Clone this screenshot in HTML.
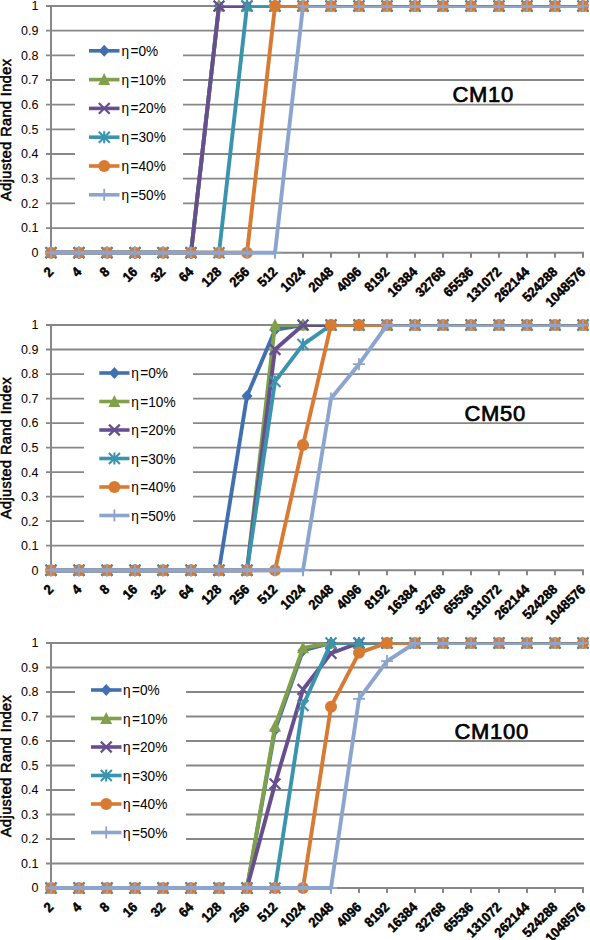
<!DOCTYPE html>
<html><head><meta charset="utf-8"><style>html,body{margin:0;padding:0;background:#fff;width:590px;height:940px;overflow:hidden}</style></head>
<body>
<svg width="590" height="940" viewBox="0 0 590 940" style="display:block">
<rect width="590" height="940" fill="#fff"/>
<path d="M46 228.03H584 M46 203.36H584 M46 178.69H584 M46 154.02H584 M46 129.35H584 M46 104.68H584 M46 80.01H584 M46 55.34H584 M46 30.67H584 M46 6.00H584" stroke="#878787" stroke-width="1.8" fill="none"/>
<path d="M51 5.00V252.70M46 252.70H584" stroke="#878787" stroke-width="2" fill="none"/>
<path d="M51.0 252.70v5 M79.0 252.70v5 M107.0 252.70v5 M135.0 252.70v5 M163.0 252.70v5 M191.0 252.70v5 M219.0 252.70v5 M247.0 252.70v5 M275.0 252.70v5 M303.0 252.70v5 M331.0 252.70v5 M359.0 252.70v5 M387.0 252.70v5 M415.0 252.70v5 M443.0 252.70v5 M471.0 252.70v5 M499.0 252.70v5 M527.0 252.70v5 M555.0 252.70v5 M583.0 252.70v5" stroke="#878787" stroke-width="2" fill="none"/>
<g font-family="Liberation Sans, sans-serif" font-size="12.5" text-anchor="end" fill="#000">
<text x="38.5" y="257.10">0</text>
<text x="38.5" y="232.43">0.1</text>
<text x="38.5" y="207.76">0.2</text>
<text x="38.5" y="183.09">0.3</text>
<text x="38.5" y="158.42">0.4</text>
<text x="38.5" y="133.75">0.5</text>
<text x="38.5" y="109.08">0.6</text>
<text x="38.5" y="84.41">0.7</text>
<text x="38.5" y="59.74">0.8</text>
<text x="38.5" y="35.07">0.9</text>
<text x="38.5" y="10.40">1</text>
</g>
<text transform="translate(10.8 129.8) rotate(-90)" font-family="Liberation Sans, sans-serif" font-size="14.5" text-anchor="middle" stroke="#000" stroke-width="0.55" letter-spacing="0.4">Adjusted Rand Index</text>
<g font-family="Liberation Sans, sans-serif" font-weight="bold" font-size="13.6" text-anchor="end" stroke="#000" stroke-width="0.5">
<text transform="translate(54.2 272.7) rotate(-45) scale(0.94 1)">2</text>
<text transform="translate(82.2 272.7) rotate(-45) scale(0.94 1)">4</text>
<text transform="translate(110.2 272.7) rotate(-45) scale(0.94 1)">8</text>
<text transform="translate(138.2 272.7) rotate(-45) scale(0.94 1)">16</text>
<text transform="translate(166.2 272.7) rotate(-45) scale(0.94 1)">32</text>
<text transform="translate(194.2 272.7) rotate(-45) scale(0.94 1)">64</text>
<text transform="translate(222.2 272.7) rotate(-45) scale(0.94 1)">128</text>
<text transform="translate(250.2 272.7) rotate(-45) scale(0.94 1)">256</text>
<text transform="translate(278.2 272.7) rotate(-45) scale(0.94 1)">512</text>
<text transform="translate(306.2 272.7) rotate(-45) scale(0.94 1)">1024</text>
<text transform="translate(334.2 272.7) rotate(-45) scale(0.94 1)">2048</text>
<text transform="translate(362.2 272.7) rotate(-45) scale(0.94 1)">4096</text>
<text transform="translate(390.2 272.7) rotate(-45) scale(0.94 1)">8192</text>
<text transform="translate(418.2 272.7) rotate(-45) scale(0.94 1)">16384</text>
<text transform="translate(446.2 272.7) rotate(-45) scale(0.94 1)">32768</text>
<text transform="translate(474.2 272.7) rotate(-45) scale(0.94 1)">65536</text>
<text transform="translate(502.2 272.7) rotate(-45) scale(0.94 1)">131072</text>
<text transform="translate(530.2 272.7) rotate(-45) scale(0.94 1)">262144</text>
<text transform="translate(558.2 272.7) rotate(-45) scale(0.94 1)">524288</text>
<text transform="translate(586.2 272.7) rotate(-45) scale(0.94 1)">1048576</text>
</g>
<rect x="75" y="33" width="108" height="193" fill="#fff"/>
<g font-family="Liberation Sans, sans-serif" font-size="15.2">
<path d="M89 50.8H119.5" stroke="#4070B0" stroke-width="3.6"/>
<path d="M104.2 44.8L109.8 50.8L104.2 56.8L98.7 50.8Z" fill="#4070B0"/>
<text transform="translate(121.5 55.8) scale(0.9 1)">η<tspan dx="1.6">=0%</tspan></text>
<path d="M89 79.6H119.5" stroke="#80A04A" stroke-width="3.6"/>
<path d="M104.2 73.0L110.2 85.0L98.2 85.0Z" fill="#80A04A"/>
<text transform="translate(121.5 84.6) scale(0.9 1)">η<tspan dx="1.6">=10%</tspan></text>
<path d="M89 108.4H119.5" stroke="#674E8F" stroke-width="3.6"/>
<path d="M98.8 103.0L109.7 113.8M109.7 103.0L98.8 113.8" stroke="#674E8F" stroke-width="2.2"/>
<text transform="translate(121.5 113.4) scale(0.9 1)">η<tspan dx="1.6">=20%</tspan></text>
<path d="M89 137.2H119.5" stroke="#3A94AE" stroke-width="3.6"/>
<path d="M98.8 131.7L109.8 142.7M109.8 131.7L98.8 142.7M104.2 131.2L104.2 143.2" stroke="#3A94AE" stroke-width="2.1"/>
<text transform="translate(121.5 142.2) scale(0.9 1)">η<tspan dx="1.6">=30%</tspan></text>
<path d="M89 166H119.5" stroke="#D97A33" stroke-width="3.6"/>
<circle cx="104.2" cy="166.0" r="6" fill="#D97A33"/>
<text transform="translate(121.5 171.0) scale(0.9 1)">η<tspan dx="1.6">=40%</tspan></text>
<path d="M89 194.8H119.5" stroke="#8CA5CE" stroke-width="3.6"/>
<path d="M98.2 194.8L110.2 194.8M104.2 188.8L104.2 200.8" stroke="#8CA5CE" stroke-width="1.8"/>
<text transform="translate(121.5 199.8) scale(0.9 1)">η<tspan dx="1.6">=50%</tspan></text>
</g>
<text x="452.5" y="101.5" font-family="Liberation Sans, sans-serif" font-size="22" letter-spacing="0.7" stroke="#000" stroke-width="0.7">CM10</text>
<clipPath id="c0"><rect x="40" y="6.00" width="560" height="256.70"/></clipPath>
<polyline points="51.0,252.70 79.0,252.70 107.0,252.70 135.0,252.70 163.0,252.70 191.0,252.70 219.0,6.00 247.0,6.00 275.0,6.00 303.0,6.00 331.0,6.00 359.0,6.00 387.0,6.00 415.0,6.00 443.0,6.00 471.0,6.00 499.0,6.00 527.0,6.00 555.0,6.00 583.0,6.00" fill="none" stroke="#4070B0" stroke-width="3.9" stroke-linejoin="round" clip-path="url(#c0)"/>
<path d="M51.0 246.7L56.5 252.7L51.0 258.7L45.5 252.7Z" fill="#4070B0"/>
<path d="M79.0 246.7L84.5 252.7L79.0 258.7L73.5 252.7Z" fill="#4070B0"/>
<path d="M107.0 246.7L112.5 252.7L107.0 258.7L101.5 252.7Z" fill="#4070B0"/>
<path d="M135.0 246.7L140.5 252.7L135.0 258.7L129.5 252.7Z" fill="#4070B0"/>
<path d="M163.0 246.7L168.5 252.7L163.0 258.7L157.5 252.7Z" fill="#4070B0"/>
<path d="M191.0 246.7L196.5 252.7L191.0 258.7L185.5 252.7Z" fill="#4070B0"/>
<path d="M219.0 0.0L224.5 6.0L219.0 12.0L213.5 6.0Z" fill="#4070B0"/>
<path d="M247.0 0.0L252.5 6.0L247.0 12.0L241.5 6.0Z" fill="#4070B0"/>
<path d="M275.0 0.0L280.5 6.0L275.0 12.0L269.5 6.0Z" fill="#4070B0"/>
<path d="M303.0 0.0L308.5 6.0L303.0 12.0L297.5 6.0Z" fill="#4070B0"/>
<path d="M331.0 0.0L336.5 6.0L331.0 12.0L325.5 6.0Z" fill="#4070B0"/>
<path d="M359.0 0.0L364.5 6.0L359.0 12.0L353.5 6.0Z" fill="#4070B0"/>
<path d="M387.0 0.0L392.5 6.0L387.0 12.0L381.5 6.0Z" fill="#4070B0"/>
<path d="M415.0 0.0L420.5 6.0L415.0 12.0L409.5 6.0Z" fill="#4070B0"/>
<path d="M443.0 0.0L448.5 6.0L443.0 12.0L437.5 6.0Z" fill="#4070B0"/>
<path d="M471.0 0.0L476.5 6.0L471.0 12.0L465.5 6.0Z" fill="#4070B0"/>
<path d="M499.0 0.0L504.5 6.0L499.0 12.0L493.5 6.0Z" fill="#4070B0"/>
<path d="M527.0 0.0L532.5 6.0L527.0 12.0L521.5 6.0Z" fill="#4070B0"/>
<path d="M555.0 0.0L560.5 6.0L555.0 12.0L549.5 6.0Z" fill="#4070B0"/>
<path d="M583.0 0.0L588.5 6.0L583.0 12.0L577.5 6.0Z" fill="#4070B0"/>
<polyline points="51.0,252.70 79.0,252.70 107.0,252.70 135.0,252.70 163.0,252.70 191.0,252.70 219.0,6.00 247.0,6.00 275.0,6.00 303.0,6.00 331.0,6.00 359.0,6.00 387.0,6.00 415.0,6.00 443.0,6.00 471.0,6.00 499.0,6.00 527.0,6.00 555.0,6.00 583.0,6.00" fill="none" stroke="#80A04A" stroke-width="3.9" stroke-linejoin="round" clip-path="url(#c0)"/>
<path d="M51.0 246.1L57.0 258.1L45.0 258.1Z" fill="#80A04A"/>
<path d="M79.0 246.1L85.0 258.1L73.0 258.1Z" fill="#80A04A"/>
<path d="M107.0 246.1L113.0 258.1L101.0 258.1Z" fill="#80A04A"/>
<path d="M135.0 246.1L141.0 258.1L129.0 258.1Z" fill="#80A04A"/>
<path d="M163.0 246.1L169.0 258.1L157.0 258.1Z" fill="#80A04A"/>
<path d="M191.0 246.1L197.0 258.1L185.0 258.1Z" fill="#80A04A"/>
<path d="M219.0 -0.6L225.0 11.4L213.0 11.4Z" fill="#80A04A"/>
<path d="M247.0 -0.6L253.0 11.4L241.0 11.4Z" fill="#80A04A"/>
<path d="M275.0 -0.6L281.0 11.4L269.0 11.4Z" fill="#80A04A"/>
<path d="M303.0 -0.6L309.0 11.4L297.0 11.4Z" fill="#80A04A"/>
<path d="M331.0 -0.6L337.0 11.4L325.0 11.4Z" fill="#80A04A"/>
<path d="M359.0 -0.6L365.0 11.4L353.0 11.4Z" fill="#80A04A"/>
<path d="M387.0 -0.6L393.0 11.4L381.0 11.4Z" fill="#80A04A"/>
<path d="M415.0 -0.6L421.0 11.4L409.0 11.4Z" fill="#80A04A"/>
<path d="M443.0 -0.6L449.0 11.4L437.0 11.4Z" fill="#80A04A"/>
<path d="M471.0 -0.6L477.0 11.4L465.0 11.4Z" fill="#80A04A"/>
<path d="M499.0 -0.6L505.0 11.4L493.0 11.4Z" fill="#80A04A"/>
<path d="M527.0 -0.6L533.0 11.4L521.0 11.4Z" fill="#80A04A"/>
<path d="M555.0 -0.6L561.0 11.4L549.0 11.4Z" fill="#80A04A"/>
<path d="M583.0 -0.6L589.0 11.4L577.0 11.4Z" fill="#80A04A"/>
<polyline points="51.0,252.70 79.0,252.70 107.0,252.70 135.0,252.70 163.0,252.70 191.0,252.70 219.0,6.00 247.0,6.00 275.0,6.00 303.0,6.00 331.0,6.00 359.0,6.00 387.0,6.00 415.0,6.00 443.0,6.00 471.0,6.00 499.0,6.00 527.0,6.00 555.0,6.00 583.0,6.00" fill="none" stroke="#674E8F" stroke-width="3.9" stroke-linejoin="round" clip-path="url(#c0)"/>
<path d="M45.6 247.3L56.4 258.1M56.4 247.3L45.6 258.1" stroke="#674E8F" stroke-width="2.2"/>
<path d="M73.6 247.3L84.4 258.1M84.4 247.3L73.6 258.1" stroke="#674E8F" stroke-width="2.2"/>
<path d="M101.6 247.3L112.4 258.1M112.4 247.3L101.6 258.1" stroke="#674E8F" stroke-width="2.2"/>
<path d="M129.6 247.3L140.4 258.1M140.4 247.3L129.6 258.1" stroke="#674E8F" stroke-width="2.2"/>
<path d="M157.6 247.3L168.4 258.1M168.4 247.3L157.6 258.1" stroke="#674E8F" stroke-width="2.2"/>
<path d="M185.6 247.3L196.4 258.1M196.4 247.3L185.6 258.1" stroke="#674E8F" stroke-width="2.2"/>
<path d="M213.6 0.6L224.4 11.4M224.4 0.6L213.6 11.4" stroke="#674E8F" stroke-width="2.2"/>
<path d="M241.6 0.6L252.4 11.4M252.4 0.6L241.6 11.4" stroke="#674E8F" stroke-width="2.2"/>
<path d="M269.6 0.6L280.4 11.4M280.4 0.6L269.6 11.4" stroke="#674E8F" stroke-width="2.2"/>
<path d="M297.6 0.6L308.4 11.4M308.4 0.6L297.6 11.4" stroke="#674E8F" stroke-width="2.2"/>
<path d="M325.6 0.6L336.4 11.4M336.4 0.6L325.6 11.4" stroke="#674E8F" stroke-width="2.2"/>
<path d="M353.6 0.6L364.4 11.4M364.4 0.6L353.6 11.4" stroke="#674E8F" stroke-width="2.2"/>
<path d="M381.6 0.6L392.4 11.4M392.4 0.6L381.6 11.4" stroke="#674E8F" stroke-width="2.2"/>
<path d="M409.6 0.6L420.4 11.4M420.4 0.6L409.6 11.4" stroke="#674E8F" stroke-width="2.2"/>
<path d="M437.6 0.6L448.4 11.4M448.4 0.6L437.6 11.4" stroke="#674E8F" stroke-width="2.2"/>
<path d="M465.6 0.6L476.4 11.4M476.4 0.6L465.6 11.4" stroke="#674E8F" stroke-width="2.2"/>
<path d="M493.6 0.6L504.4 11.4M504.4 0.6L493.6 11.4" stroke="#674E8F" stroke-width="2.2"/>
<path d="M521.6 0.6L532.4 11.4M532.4 0.6L521.6 11.4" stroke="#674E8F" stroke-width="2.2"/>
<path d="M549.6 0.6L560.4 11.4M560.4 0.6L549.6 11.4" stroke="#674E8F" stroke-width="2.2"/>
<path d="M577.6 0.6L588.4 11.4M588.4 0.6L577.6 11.4" stroke="#674E8F" stroke-width="2.2"/>
<polyline points="51.0,252.70 79.0,252.70 107.0,252.70 135.0,252.70 163.0,252.70 191.0,252.70 219.0,252.70 247.0,6.00 275.0,6.00 303.0,6.00 331.0,6.00 359.0,6.00 387.0,6.00 415.0,6.00 443.0,6.00 471.0,6.00 499.0,6.00 527.0,6.00 555.0,6.00 583.0,6.00" fill="none" stroke="#3A94AE" stroke-width="3.9" stroke-linejoin="round" clip-path="url(#c0)"/>
<path d="M45.5 247.2L56.5 258.2M56.5 247.2L45.5 258.2M51.0 246.7L51.0 258.7" stroke="#3A94AE" stroke-width="2.1"/>
<path d="M73.5 247.2L84.5 258.2M84.5 247.2L73.5 258.2M79.0 246.7L79.0 258.7" stroke="#3A94AE" stroke-width="2.1"/>
<path d="M101.5 247.2L112.5 258.2M112.5 247.2L101.5 258.2M107.0 246.7L107.0 258.7" stroke="#3A94AE" stroke-width="2.1"/>
<path d="M129.5 247.2L140.5 258.2M140.5 247.2L129.5 258.2M135.0 246.7L135.0 258.7" stroke="#3A94AE" stroke-width="2.1"/>
<path d="M157.5 247.2L168.5 258.2M168.5 247.2L157.5 258.2M163.0 246.7L163.0 258.7" stroke="#3A94AE" stroke-width="2.1"/>
<path d="M185.5 247.2L196.5 258.2M196.5 247.2L185.5 258.2M191.0 246.7L191.0 258.7" stroke="#3A94AE" stroke-width="2.1"/>
<path d="M213.5 247.2L224.5 258.2M224.5 247.2L213.5 258.2M219.0 246.7L219.0 258.7" stroke="#3A94AE" stroke-width="2.1"/>
<path d="M241.5 0.5L252.5 11.5M252.5 0.5L241.5 11.5M247.0 0.0L247.0 12.0" stroke="#3A94AE" stroke-width="2.1"/>
<path d="M269.5 0.5L280.5 11.5M280.5 0.5L269.5 11.5M275.0 0.0L275.0 12.0" stroke="#3A94AE" stroke-width="2.1"/>
<path d="M297.5 0.5L308.5 11.5M308.5 0.5L297.5 11.5M303.0 0.0L303.0 12.0" stroke="#3A94AE" stroke-width="2.1"/>
<path d="M325.5 0.5L336.5 11.5M336.5 0.5L325.5 11.5M331.0 0.0L331.0 12.0" stroke="#3A94AE" stroke-width="2.1"/>
<path d="M353.5 0.5L364.5 11.5M364.5 0.5L353.5 11.5M359.0 0.0L359.0 12.0" stroke="#3A94AE" stroke-width="2.1"/>
<path d="M381.5 0.5L392.5 11.5M392.5 0.5L381.5 11.5M387.0 0.0L387.0 12.0" stroke="#3A94AE" stroke-width="2.1"/>
<path d="M409.5 0.5L420.5 11.5M420.5 0.5L409.5 11.5M415.0 0.0L415.0 12.0" stroke="#3A94AE" stroke-width="2.1"/>
<path d="M437.5 0.5L448.5 11.5M448.5 0.5L437.5 11.5M443.0 0.0L443.0 12.0" stroke="#3A94AE" stroke-width="2.1"/>
<path d="M465.5 0.5L476.5 11.5M476.5 0.5L465.5 11.5M471.0 0.0L471.0 12.0" stroke="#3A94AE" stroke-width="2.1"/>
<path d="M493.5 0.5L504.5 11.5M504.5 0.5L493.5 11.5M499.0 0.0L499.0 12.0" stroke="#3A94AE" stroke-width="2.1"/>
<path d="M521.5 0.5L532.5 11.5M532.5 0.5L521.5 11.5M527.0 0.0L527.0 12.0" stroke="#3A94AE" stroke-width="2.1"/>
<path d="M549.5 0.5L560.5 11.5M560.5 0.5L549.5 11.5M555.0 0.0L555.0 12.0" stroke="#3A94AE" stroke-width="2.1"/>
<path d="M577.5 0.5L588.5 11.5M588.5 0.5L577.5 11.5M583.0 0.0L583.0 12.0" stroke="#3A94AE" stroke-width="2.1"/>
<polyline points="51.0,252.70 79.0,252.70 107.0,252.70 135.0,252.70 163.0,252.70 191.0,252.70 219.0,252.70 247.0,252.70 275.0,6.00 303.0,6.00 331.0,6.00 359.0,6.00 387.0,6.00 415.0,6.00 443.0,6.00 471.0,6.00 499.0,6.00 527.0,6.00 555.0,6.00 583.0,6.00" fill="none" stroke="#D97A33" stroke-width="3.9" stroke-linejoin="round" clip-path="url(#c0)"/>
<circle cx="51.0" cy="252.7" r="6" fill="#D97A33"/>
<circle cx="79.0" cy="252.7" r="6" fill="#D97A33"/>
<circle cx="107.0" cy="252.7" r="6" fill="#D97A33"/>
<circle cx="135.0" cy="252.7" r="6" fill="#D97A33"/>
<circle cx="163.0" cy="252.7" r="6" fill="#D97A33"/>
<circle cx="191.0" cy="252.7" r="6" fill="#D97A33"/>
<circle cx="219.0" cy="252.7" r="6" fill="#D97A33"/>
<circle cx="247.0" cy="252.7" r="6" fill="#D97A33"/>
<circle cx="275.0" cy="6.0" r="6" fill="#D97A33"/>
<circle cx="303.0" cy="6.0" r="6" fill="#D97A33"/>
<circle cx="331.0" cy="6.0" r="6" fill="#D97A33"/>
<circle cx="359.0" cy="6.0" r="6" fill="#D97A33"/>
<circle cx="387.0" cy="6.0" r="6" fill="#D97A33"/>
<circle cx="415.0" cy="6.0" r="6" fill="#D97A33"/>
<circle cx="443.0" cy="6.0" r="6" fill="#D97A33"/>
<circle cx="471.0" cy="6.0" r="6" fill="#D97A33"/>
<circle cx="499.0" cy="6.0" r="6" fill="#D97A33"/>
<circle cx="527.0" cy="6.0" r="6" fill="#D97A33"/>
<circle cx="555.0" cy="6.0" r="6" fill="#D97A33"/>
<circle cx="583.0" cy="6.0" r="6" fill="#D97A33"/>
<polyline points="51.0,252.70 79.0,252.70 107.0,252.70 135.0,252.70 163.0,252.70 191.0,252.70 219.0,252.70 247.0,252.70 275.0,252.70 303.0,6.00 331.0,6.00 359.0,6.00 387.0,6.00 415.0,6.00 443.0,6.00 471.0,6.00 499.0,6.00 527.0,6.00 555.0,6.00 583.0,6.00" fill="none" stroke="#8CA5CE" stroke-width="3.9" stroke-linejoin="round" clip-path="url(#c0)"/>
<path d="M45.0 252.7L57.0 252.7M51.0 246.7L51.0 258.7" stroke="#8CA5CE" stroke-width="1.8"/>
<path d="M73.0 252.7L85.0 252.7M79.0 246.7L79.0 258.7" stroke="#8CA5CE" stroke-width="1.8"/>
<path d="M101.0 252.7L113.0 252.7M107.0 246.7L107.0 258.7" stroke="#8CA5CE" stroke-width="1.8"/>
<path d="M129.0 252.7L141.0 252.7M135.0 246.7L135.0 258.7" stroke="#8CA5CE" stroke-width="1.8"/>
<path d="M157.0 252.7L169.0 252.7M163.0 246.7L163.0 258.7" stroke="#8CA5CE" stroke-width="1.8"/>
<path d="M185.0 252.7L197.0 252.7M191.0 246.7L191.0 258.7" stroke="#8CA5CE" stroke-width="1.8"/>
<path d="M213.0 252.7L225.0 252.7M219.0 246.7L219.0 258.7" stroke="#8CA5CE" stroke-width="1.8"/>
<path d="M241.0 252.7L253.0 252.7M247.0 246.7L247.0 258.7" stroke="#8CA5CE" stroke-width="1.8"/>
<path d="M269.0 252.7L281.0 252.7M275.0 246.7L275.0 258.7" stroke="#8CA5CE" stroke-width="1.8"/>
<path d="M297.0 6.0L309.0 6.0M303.0 0.0L303.0 12.0" stroke="#8CA5CE" stroke-width="1.8"/>
<path d="M325.0 6.0L337.0 6.0M331.0 0.0L331.0 12.0" stroke="#8CA5CE" stroke-width="1.8"/>
<path d="M353.0 6.0L365.0 6.0M359.0 0.0L359.0 12.0" stroke="#8CA5CE" stroke-width="1.8"/>
<path d="M381.0 6.0L393.0 6.0M387.0 0.0L387.0 12.0" stroke="#8CA5CE" stroke-width="1.8"/>
<path d="M409.0 6.0L421.0 6.0M415.0 0.0L415.0 12.0" stroke="#8CA5CE" stroke-width="1.8"/>
<path d="M437.0 6.0L449.0 6.0M443.0 0.0L443.0 12.0" stroke="#8CA5CE" stroke-width="1.8"/>
<path d="M465.0 6.0L477.0 6.0M471.0 0.0L471.0 12.0" stroke="#8CA5CE" stroke-width="1.8"/>
<path d="M493.0 6.0L505.0 6.0M499.0 0.0L499.0 12.0" stroke="#8CA5CE" stroke-width="1.8"/>
<path d="M521.0 6.0L533.0 6.0M527.0 0.0L527.0 12.0" stroke="#8CA5CE" stroke-width="1.8"/>
<path d="M549.0 6.0L561.0 6.0M555.0 0.0L555.0 12.0" stroke="#8CA5CE" stroke-width="1.8"/>
<path d="M577.0 6.0L589.0 6.0M583.0 0.0L583.0 12.0" stroke="#8CA5CE" stroke-width="1.8"/>
<path d="M46 545.68H584 M46 521.16H584 M46 496.64H584 M46 472.12H584 M46 447.60H584 M46 423.08H584 M46 398.56H584 M46 374.04H584 M46 349.52H584 M46 325.00H584" stroke="#878787" stroke-width="1.8" fill="none"/>
<path d="M51 324.00V570.20M46 570.20H584" stroke="#878787" stroke-width="2" fill="none"/>
<path d="M51.0 570.20v5 M79.0 570.20v5 M107.0 570.20v5 M135.0 570.20v5 M163.0 570.20v5 M191.0 570.20v5 M219.0 570.20v5 M247.0 570.20v5 M275.0 570.20v5 M303.0 570.20v5 M331.0 570.20v5 M359.0 570.20v5 M387.0 570.20v5 M415.0 570.20v5 M443.0 570.20v5 M471.0 570.20v5 M499.0 570.20v5 M527.0 570.20v5 M555.0 570.20v5 M583.0 570.20v5" stroke="#878787" stroke-width="2" fill="none"/>
<g font-family="Liberation Sans, sans-serif" font-size="12.5" text-anchor="end" fill="#000">
<text x="38.5" y="574.60">0</text>
<text x="38.5" y="550.08">0.1</text>
<text x="38.5" y="525.56">0.2</text>
<text x="38.5" y="501.04">0.3</text>
<text x="38.5" y="476.52">0.4</text>
<text x="38.5" y="452.00">0.5</text>
<text x="38.5" y="427.48">0.6</text>
<text x="38.5" y="402.96">0.7</text>
<text x="38.5" y="378.44">0.8</text>
<text x="38.5" y="353.92">0.9</text>
<text x="38.5" y="329.40">1</text>
</g>
<text transform="translate(10.8 448.0) rotate(-90)" font-family="Liberation Sans, sans-serif" font-size="14.5" text-anchor="middle" stroke="#000" stroke-width="0.55" letter-spacing="0.4">Adjusted Rand Index</text>
<g font-family="Liberation Sans, sans-serif" font-weight="bold" font-size="13.6" text-anchor="end" stroke="#000" stroke-width="0.5">
<text transform="translate(54.2 590.2) rotate(-45) scale(0.94 1)">2</text>
<text transform="translate(82.2 590.2) rotate(-45) scale(0.94 1)">4</text>
<text transform="translate(110.2 590.2) rotate(-45) scale(0.94 1)">8</text>
<text transform="translate(138.2 590.2) rotate(-45) scale(0.94 1)">16</text>
<text transform="translate(166.2 590.2) rotate(-45) scale(0.94 1)">32</text>
<text transform="translate(194.2 590.2) rotate(-45) scale(0.94 1)">64</text>
<text transform="translate(222.2 590.2) rotate(-45) scale(0.94 1)">128</text>
<text transform="translate(250.2 590.2) rotate(-45) scale(0.94 1)">256</text>
<text transform="translate(278.2 590.2) rotate(-45) scale(0.94 1)">512</text>
<text transform="translate(306.2 590.2) rotate(-45) scale(0.94 1)">1024</text>
<text transform="translate(334.2 590.2) rotate(-45) scale(0.94 1)">2048</text>
<text transform="translate(362.2 590.2) rotate(-45) scale(0.94 1)">4096</text>
<text transform="translate(390.2 590.2) rotate(-45) scale(0.94 1)">8192</text>
<text transform="translate(418.2 590.2) rotate(-45) scale(0.94 1)">16384</text>
<text transform="translate(446.2 590.2) rotate(-45) scale(0.94 1)">32768</text>
<text transform="translate(474.2 590.2) rotate(-45) scale(0.94 1)">65536</text>
<text transform="translate(502.2 590.2) rotate(-45) scale(0.94 1)">131072</text>
<text transform="translate(530.2 590.2) rotate(-45) scale(0.94 1)">262144</text>
<text transform="translate(558.2 590.2) rotate(-45) scale(0.94 1)">524288</text>
<text transform="translate(586.2 590.2) rotate(-45) scale(0.94 1)">1048576</text>
</g>
<rect x="84" y="352" width="109" height="192" fill="#fff"/>
<g font-family="Liberation Sans, sans-serif" font-size="15.2">
<path d="M99.3 373H129.5" stroke="#4070B0" stroke-width="3.6"/>
<path d="M114.4 367.0L119.9 373.0L114.4 379.0L108.9 373.0Z" fill="#4070B0"/>
<text transform="translate(131.2 378.0) scale(0.9 1)">η<tspan dx="1.6">=0%</tspan></text>
<path d="M99.3 401.5H129.5" stroke="#80A04A" stroke-width="3.6"/>
<path d="M114.4 394.9L120.4 406.9L108.4 406.9Z" fill="#80A04A"/>
<text transform="translate(131.2 406.5) scale(0.9 1)">η<tspan dx="1.6">=10%</tspan></text>
<path d="M99.3 430H129.5" stroke="#674E8F" stroke-width="3.6"/>
<path d="M109.0 424.6L119.8 435.4M119.8 424.6L109.0 435.4" stroke="#674E8F" stroke-width="2.2"/>
<text transform="translate(131.2 435.0) scale(0.9 1)">η<tspan dx="1.6">=20%</tspan></text>
<path d="M99.3 458.5H129.5" stroke="#3A94AE" stroke-width="3.6"/>
<path d="M108.9 453.0L119.9 464.0M119.9 453.0L108.9 464.0M114.4 452.5L114.4 464.5" stroke="#3A94AE" stroke-width="2.1"/>
<text transform="translate(131.2 463.5) scale(0.9 1)">η<tspan dx="1.6">=30%</tspan></text>
<path d="M99.3 487H129.5" stroke="#D97A33" stroke-width="3.6"/>
<circle cx="114.4" cy="487.0" r="6" fill="#D97A33"/>
<text transform="translate(131.2 492.0) scale(0.9 1)">η<tspan dx="1.6">=40%</tspan></text>
<path d="M99.3 515.5H129.5" stroke="#8CA5CE" stroke-width="3.6"/>
<path d="M108.4 515.5L120.4 515.5M114.4 509.5L114.4 521.5" stroke="#8CA5CE" stroke-width="1.8"/>
<text transform="translate(131.2 520.5) scale(0.9 1)">η<tspan dx="1.6">=50%</tspan></text>
</g>
<text x="464.5" y="421" font-family="Liberation Sans, sans-serif" font-size="22" letter-spacing="0.7" stroke="#000" stroke-width="0.7">CM50</text>
<clipPath id="c1"><rect x="40" y="325.00" width="560" height="255.20"/></clipPath>
<polyline points="51.0,570.20 79.0,570.20 107.0,570.20 135.0,570.20 163.0,570.20 191.0,570.20 219.0,570.20 247.0,396.11 275.0,329.90 303.0,325.00 331.0,325.00 359.0,325.00 387.0,325.00 415.0,325.00 443.0,325.00 471.0,325.00 499.0,325.00 527.0,325.00 555.0,325.00 583.0,325.00" fill="none" stroke="#4070B0" stroke-width="3.9" stroke-linejoin="round" clip-path="url(#c1)"/>
<path d="M51.0 564.2L56.5 570.2L51.0 576.2L45.5 570.2Z" fill="#4070B0"/>
<path d="M79.0 564.2L84.5 570.2L79.0 576.2L73.5 570.2Z" fill="#4070B0"/>
<path d="M107.0 564.2L112.5 570.2L107.0 576.2L101.5 570.2Z" fill="#4070B0"/>
<path d="M135.0 564.2L140.5 570.2L135.0 576.2L129.5 570.2Z" fill="#4070B0"/>
<path d="M163.0 564.2L168.5 570.2L163.0 576.2L157.5 570.2Z" fill="#4070B0"/>
<path d="M191.0 564.2L196.5 570.2L191.0 576.2L185.5 570.2Z" fill="#4070B0"/>
<path d="M219.0 564.2L224.5 570.2L219.0 576.2L213.5 570.2Z" fill="#4070B0"/>
<path d="M247.0 390.1L252.5 396.1L247.0 402.1L241.5 396.1Z" fill="#4070B0"/>
<path d="M275.0 323.9L280.5 329.9L275.0 335.9L269.5 329.9Z" fill="#4070B0"/>
<path d="M303.0 319.0L308.5 325.0L303.0 331.0L297.5 325.0Z" fill="#4070B0"/>
<path d="M331.0 319.0L336.5 325.0L331.0 331.0L325.5 325.0Z" fill="#4070B0"/>
<path d="M359.0 319.0L364.5 325.0L359.0 331.0L353.5 325.0Z" fill="#4070B0"/>
<path d="M387.0 319.0L392.5 325.0L387.0 331.0L381.5 325.0Z" fill="#4070B0"/>
<path d="M415.0 319.0L420.5 325.0L415.0 331.0L409.5 325.0Z" fill="#4070B0"/>
<path d="M443.0 319.0L448.5 325.0L443.0 331.0L437.5 325.0Z" fill="#4070B0"/>
<path d="M471.0 319.0L476.5 325.0L471.0 331.0L465.5 325.0Z" fill="#4070B0"/>
<path d="M499.0 319.0L504.5 325.0L499.0 331.0L493.5 325.0Z" fill="#4070B0"/>
<path d="M527.0 319.0L532.5 325.0L527.0 331.0L521.5 325.0Z" fill="#4070B0"/>
<path d="M555.0 319.0L560.5 325.0L555.0 331.0L549.5 325.0Z" fill="#4070B0"/>
<path d="M583.0 319.0L588.5 325.0L583.0 331.0L577.5 325.0Z" fill="#4070B0"/>
<polyline points="51.0,570.20 79.0,570.20 107.0,570.20 135.0,570.20 163.0,570.20 191.0,570.20 219.0,570.20 247.0,570.20 275.0,325.00 303.0,325.00 331.0,325.00 359.0,325.00 387.0,325.00 415.0,325.00 443.0,325.00 471.0,325.00 499.0,325.00 527.0,325.00 555.0,325.00 583.0,325.00" fill="none" stroke="#80A04A" stroke-width="3.9" stroke-linejoin="round" clip-path="url(#c1)"/>
<path d="M51.0 563.6L57.0 575.6L45.0 575.6Z" fill="#80A04A"/>
<path d="M79.0 563.6L85.0 575.6L73.0 575.6Z" fill="#80A04A"/>
<path d="M107.0 563.6L113.0 575.6L101.0 575.6Z" fill="#80A04A"/>
<path d="M135.0 563.6L141.0 575.6L129.0 575.6Z" fill="#80A04A"/>
<path d="M163.0 563.6L169.0 575.6L157.0 575.6Z" fill="#80A04A"/>
<path d="M191.0 563.6L197.0 575.6L185.0 575.6Z" fill="#80A04A"/>
<path d="M219.0 563.6L225.0 575.6L213.0 575.6Z" fill="#80A04A"/>
<path d="M247.0 563.6L253.0 575.6L241.0 575.6Z" fill="#80A04A"/>
<path d="M275.0 318.4L281.0 330.4L269.0 330.4Z" fill="#80A04A"/>
<path d="M303.0 318.4L309.0 330.4L297.0 330.4Z" fill="#80A04A"/>
<path d="M331.0 318.4L337.0 330.4L325.0 330.4Z" fill="#80A04A"/>
<path d="M359.0 318.4L365.0 330.4L353.0 330.4Z" fill="#80A04A"/>
<path d="M387.0 318.4L393.0 330.4L381.0 330.4Z" fill="#80A04A"/>
<path d="M415.0 318.4L421.0 330.4L409.0 330.4Z" fill="#80A04A"/>
<path d="M443.0 318.4L449.0 330.4L437.0 330.4Z" fill="#80A04A"/>
<path d="M471.0 318.4L477.0 330.4L465.0 330.4Z" fill="#80A04A"/>
<path d="M499.0 318.4L505.0 330.4L493.0 330.4Z" fill="#80A04A"/>
<path d="M527.0 318.4L533.0 330.4L521.0 330.4Z" fill="#80A04A"/>
<path d="M555.0 318.4L561.0 330.4L549.0 330.4Z" fill="#80A04A"/>
<path d="M583.0 318.4L589.0 330.4L577.0 330.4Z" fill="#80A04A"/>
<polyline points="51.0,570.20 79.0,570.20 107.0,570.20 135.0,570.20 163.0,570.20 191.0,570.20 219.0,570.20 247.0,570.20 275.0,349.52 303.0,325.00 331.0,325.00 359.0,325.00 387.0,325.00 415.0,325.00 443.0,325.00 471.0,325.00 499.0,325.00 527.0,325.00 555.0,325.00 583.0,325.00" fill="none" stroke="#674E8F" stroke-width="3.9" stroke-linejoin="round" clip-path="url(#c1)"/>
<path d="M45.6 564.8L56.4 575.6M56.4 564.8L45.6 575.6" stroke="#674E8F" stroke-width="2.2"/>
<path d="M73.6 564.8L84.4 575.6M84.4 564.8L73.6 575.6" stroke="#674E8F" stroke-width="2.2"/>
<path d="M101.6 564.8L112.4 575.6M112.4 564.8L101.6 575.6" stroke="#674E8F" stroke-width="2.2"/>
<path d="M129.6 564.8L140.4 575.6M140.4 564.8L129.6 575.6" stroke="#674E8F" stroke-width="2.2"/>
<path d="M157.6 564.8L168.4 575.6M168.4 564.8L157.6 575.6" stroke="#674E8F" stroke-width="2.2"/>
<path d="M185.6 564.8L196.4 575.6M196.4 564.8L185.6 575.6" stroke="#674E8F" stroke-width="2.2"/>
<path d="M213.6 564.8L224.4 575.6M224.4 564.8L213.6 575.6" stroke="#674E8F" stroke-width="2.2"/>
<path d="M241.6 564.8L252.4 575.6M252.4 564.8L241.6 575.6" stroke="#674E8F" stroke-width="2.2"/>
<path d="M269.6 344.1L280.4 354.9M280.4 344.1L269.6 354.9" stroke="#674E8F" stroke-width="2.2"/>
<path d="M297.6 319.6L308.4 330.4M308.4 319.6L297.6 330.4" stroke="#674E8F" stroke-width="2.2"/>
<path d="M325.6 319.6L336.4 330.4M336.4 319.6L325.6 330.4" stroke="#674E8F" stroke-width="2.2"/>
<path d="M353.6 319.6L364.4 330.4M364.4 319.6L353.6 330.4" stroke="#674E8F" stroke-width="2.2"/>
<path d="M381.6 319.6L392.4 330.4M392.4 319.6L381.6 330.4" stroke="#674E8F" stroke-width="2.2"/>
<path d="M409.6 319.6L420.4 330.4M420.4 319.6L409.6 330.4" stroke="#674E8F" stroke-width="2.2"/>
<path d="M437.6 319.6L448.4 330.4M448.4 319.6L437.6 330.4" stroke="#674E8F" stroke-width="2.2"/>
<path d="M465.6 319.6L476.4 330.4M476.4 319.6L465.6 330.4" stroke="#674E8F" stroke-width="2.2"/>
<path d="M493.6 319.6L504.4 330.4M504.4 319.6L493.6 330.4" stroke="#674E8F" stroke-width="2.2"/>
<path d="M521.6 319.6L532.4 330.4M532.4 319.6L521.6 330.4" stroke="#674E8F" stroke-width="2.2"/>
<path d="M549.6 319.6L560.4 330.4M560.4 319.6L549.6 330.4" stroke="#674E8F" stroke-width="2.2"/>
<path d="M577.6 319.6L588.4 330.4M588.4 319.6L577.6 330.4" stroke="#674E8F" stroke-width="2.2"/>
<polyline points="51.0,570.20 79.0,570.20 107.0,570.20 135.0,570.20 163.0,570.20 191.0,570.20 219.0,570.20 247.0,570.20 275.0,381.40 303.0,344.62 331.0,325.00 359.0,325.00 387.0,325.00 415.0,325.00 443.0,325.00 471.0,325.00 499.0,325.00 527.0,325.00 555.0,325.00 583.0,325.00" fill="none" stroke="#3A94AE" stroke-width="3.9" stroke-linejoin="round" clip-path="url(#c1)"/>
<path d="M45.5 564.7L56.5 575.7M56.5 564.7L45.5 575.7M51.0 564.2L51.0 576.2" stroke="#3A94AE" stroke-width="2.1"/>
<path d="M73.5 564.7L84.5 575.7M84.5 564.7L73.5 575.7M79.0 564.2L79.0 576.2" stroke="#3A94AE" stroke-width="2.1"/>
<path d="M101.5 564.7L112.5 575.7M112.5 564.7L101.5 575.7M107.0 564.2L107.0 576.2" stroke="#3A94AE" stroke-width="2.1"/>
<path d="M129.5 564.7L140.5 575.7M140.5 564.7L129.5 575.7M135.0 564.2L135.0 576.2" stroke="#3A94AE" stroke-width="2.1"/>
<path d="M157.5 564.7L168.5 575.7M168.5 564.7L157.5 575.7M163.0 564.2L163.0 576.2" stroke="#3A94AE" stroke-width="2.1"/>
<path d="M185.5 564.7L196.5 575.7M196.5 564.7L185.5 575.7M191.0 564.2L191.0 576.2" stroke="#3A94AE" stroke-width="2.1"/>
<path d="M213.5 564.7L224.5 575.7M224.5 564.7L213.5 575.7M219.0 564.2L219.0 576.2" stroke="#3A94AE" stroke-width="2.1"/>
<path d="M241.5 564.7L252.5 575.7M252.5 564.7L241.5 575.7M247.0 564.2L247.0 576.2" stroke="#3A94AE" stroke-width="2.1"/>
<path d="M269.5 375.9L280.5 386.9M280.5 375.9L269.5 386.9M275.0 375.4L275.0 387.4" stroke="#3A94AE" stroke-width="2.1"/>
<path d="M297.5 339.1L308.5 350.1M308.5 339.1L297.5 350.1M303.0 338.6L303.0 350.6" stroke="#3A94AE" stroke-width="2.1"/>
<path d="M325.5 319.5L336.5 330.5M336.5 319.5L325.5 330.5M331.0 319.0L331.0 331.0" stroke="#3A94AE" stroke-width="2.1"/>
<path d="M353.5 319.5L364.5 330.5M364.5 319.5L353.5 330.5M359.0 319.0L359.0 331.0" stroke="#3A94AE" stroke-width="2.1"/>
<path d="M381.5 319.5L392.5 330.5M392.5 319.5L381.5 330.5M387.0 319.0L387.0 331.0" stroke="#3A94AE" stroke-width="2.1"/>
<path d="M409.5 319.5L420.5 330.5M420.5 319.5L409.5 330.5M415.0 319.0L415.0 331.0" stroke="#3A94AE" stroke-width="2.1"/>
<path d="M437.5 319.5L448.5 330.5M448.5 319.5L437.5 330.5M443.0 319.0L443.0 331.0" stroke="#3A94AE" stroke-width="2.1"/>
<path d="M465.5 319.5L476.5 330.5M476.5 319.5L465.5 330.5M471.0 319.0L471.0 331.0" stroke="#3A94AE" stroke-width="2.1"/>
<path d="M493.5 319.5L504.5 330.5M504.5 319.5L493.5 330.5M499.0 319.0L499.0 331.0" stroke="#3A94AE" stroke-width="2.1"/>
<path d="M521.5 319.5L532.5 330.5M532.5 319.5L521.5 330.5M527.0 319.0L527.0 331.0" stroke="#3A94AE" stroke-width="2.1"/>
<path d="M549.5 319.5L560.5 330.5M560.5 319.5L549.5 330.5M555.0 319.0L555.0 331.0" stroke="#3A94AE" stroke-width="2.1"/>
<path d="M577.5 319.5L588.5 330.5M588.5 319.5L577.5 330.5M583.0 319.0L583.0 331.0" stroke="#3A94AE" stroke-width="2.1"/>
<polyline points="51.0,570.20 79.0,570.20 107.0,570.20 135.0,570.20 163.0,570.20 191.0,570.20 219.0,570.20 247.0,570.20 275.0,570.20 303.0,445.15 331.0,325.00 359.0,325.00 387.0,325.00 415.0,325.00 443.0,325.00 471.0,325.00 499.0,325.00 527.0,325.00 555.0,325.00 583.0,325.00" fill="none" stroke="#D97A33" stroke-width="3.9" stroke-linejoin="round" clip-path="url(#c1)"/>
<circle cx="51.0" cy="570.2" r="6" fill="#D97A33"/>
<circle cx="79.0" cy="570.2" r="6" fill="#D97A33"/>
<circle cx="107.0" cy="570.2" r="6" fill="#D97A33"/>
<circle cx="135.0" cy="570.2" r="6" fill="#D97A33"/>
<circle cx="163.0" cy="570.2" r="6" fill="#D97A33"/>
<circle cx="191.0" cy="570.2" r="6" fill="#D97A33"/>
<circle cx="219.0" cy="570.2" r="6" fill="#D97A33"/>
<circle cx="247.0" cy="570.2" r="6" fill="#D97A33"/>
<circle cx="275.0" cy="570.2" r="6" fill="#D97A33"/>
<circle cx="303.0" cy="445.1" r="6" fill="#D97A33"/>
<circle cx="331.0" cy="325.0" r="6" fill="#D97A33"/>
<circle cx="359.0" cy="325.0" r="6" fill="#D97A33"/>
<circle cx="387.0" cy="325.0" r="6" fill="#D97A33"/>
<circle cx="415.0" cy="325.0" r="6" fill="#D97A33"/>
<circle cx="443.0" cy="325.0" r="6" fill="#D97A33"/>
<circle cx="471.0" cy="325.0" r="6" fill="#D97A33"/>
<circle cx="499.0" cy="325.0" r="6" fill="#D97A33"/>
<circle cx="527.0" cy="325.0" r="6" fill="#D97A33"/>
<circle cx="555.0" cy="325.0" r="6" fill="#D97A33"/>
<circle cx="583.0" cy="325.0" r="6" fill="#D97A33"/>
<polyline points="51.0,570.20 79.0,570.20 107.0,570.20 135.0,570.20 163.0,570.20 191.0,570.20 219.0,570.20 247.0,570.20 275.0,570.20 303.0,570.20 331.0,398.56 359.0,364.23 387.0,325.00 415.0,325.00 443.0,325.00 471.0,325.00 499.0,325.00 527.0,325.00 555.0,325.00 583.0,325.00" fill="none" stroke="#8CA5CE" stroke-width="3.9" stroke-linejoin="round" clip-path="url(#c1)"/>
<path d="M45.0 570.2L57.0 570.2M51.0 564.2L51.0 576.2" stroke="#8CA5CE" stroke-width="1.8"/>
<path d="M73.0 570.2L85.0 570.2M79.0 564.2L79.0 576.2" stroke="#8CA5CE" stroke-width="1.8"/>
<path d="M101.0 570.2L113.0 570.2M107.0 564.2L107.0 576.2" stroke="#8CA5CE" stroke-width="1.8"/>
<path d="M129.0 570.2L141.0 570.2M135.0 564.2L135.0 576.2" stroke="#8CA5CE" stroke-width="1.8"/>
<path d="M157.0 570.2L169.0 570.2M163.0 564.2L163.0 576.2" stroke="#8CA5CE" stroke-width="1.8"/>
<path d="M185.0 570.2L197.0 570.2M191.0 564.2L191.0 576.2" stroke="#8CA5CE" stroke-width="1.8"/>
<path d="M213.0 570.2L225.0 570.2M219.0 564.2L219.0 576.2" stroke="#8CA5CE" stroke-width="1.8"/>
<path d="M241.0 570.2L253.0 570.2M247.0 564.2L247.0 576.2" stroke="#8CA5CE" stroke-width="1.8"/>
<path d="M269.0 570.2L281.0 570.2M275.0 564.2L275.0 576.2" stroke="#8CA5CE" stroke-width="1.8"/>
<path d="M297.0 570.2L309.0 570.2M303.0 564.2L303.0 576.2" stroke="#8CA5CE" stroke-width="1.8"/>
<path d="M325.0 398.6L337.0 398.6M331.0 392.6L331.0 404.6" stroke="#8CA5CE" stroke-width="1.8"/>
<path d="M353.0 364.2L365.0 364.2M359.0 358.2L359.0 370.2" stroke="#8CA5CE" stroke-width="1.8"/>
<path d="M381.0 325.0L393.0 325.0M387.0 319.0L387.0 331.0" stroke="#8CA5CE" stroke-width="1.8"/>
<path d="M409.0 325.0L421.0 325.0M415.0 319.0L415.0 331.0" stroke="#8CA5CE" stroke-width="1.8"/>
<path d="M437.0 325.0L449.0 325.0M443.0 319.0L443.0 331.0" stroke="#8CA5CE" stroke-width="1.8"/>
<path d="M465.0 325.0L477.0 325.0M471.0 319.0L471.0 331.0" stroke="#8CA5CE" stroke-width="1.8"/>
<path d="M493.0 325.0L505.0 325.0M499.0 319.0L499.0 331.0" stroke="#8CA5CE" stroke-width="1.8"/>
<path d="M521.0 325.0L533.0 325.0M527.0 319.0L527.0 331.0" stroke="#8CA5CE" stroke-width="1.8"/>
<path d="M549.0 325.0L561.0 325.0M555.0 319.0L555.0 331.0" stroke="#8CA5CE" stroke-width="1.8"/>
<path d="M577.0 325.0L589.0 325.0M583.0 319.0L583.0 331.0" stroke="#8CA5CE" stroke-width="1.8"/>
<path d="M46 863.50H584 M46 839.00H584 M46 814.50H584 M46 790.00H584 M46 765.50H584 M46 741.00H584 M46 716.50H584 M46 692.00H584 M46 667.50H584 M46 643.00H584" stroke="#878787" stroke-width="1.8" fill="none"/>
<path d="M51 642.00V888.00M46 888.00H584" stroke="#878787" stroke-width="2" fill="none"/>
<path d="M51.0 888.00v5 M79.0 888.00v5 M107.0 888.00v5 M135.0 888.00v5 M163.0 888.00v5 M191.0 888.00v5 M219.0 888.00v5 M247.0 888.00v5 M275.0 888.00v5 M303.0 888.00v5 M331.0 888.00v5 M359.0 888.00v5 M387.0 888.00v5 M415.0 888.00v5 M443.0 888.00v5 M471.0 888.00v5 M499.0 888.00v5 M527.0 888.00v5 M555.0 888.00v5 M583.0 888.00v5" stroke="#878787" stroke-width="2" fill="none"/>
<g font-family="Liberation Sans, sans-serif" font-size="12.5" text-anchor="end" fill="#000">
<text x="38.5" y="892.40">0</text>
<text x="38.5" y="867.90">0.1</text>
<text x="38.5" y="843.40">0.2</text>
<text x="38.5" y="818.90">0.3</text>
<text x="38.5" y="794.40">0.4</text>
<text x="38.5" y="769.90">0.5</text>
<text x="38.5" y="745.40">0.6</text>
<text x="38.5" y="720.90">0.7</text>
<text x="38.5" y="696.40">0.8</text>
<text x="38.5" y="671.90">0.9</text>
<text x="38.5" y="647.40">1</text>
</g>
<text transform="translate(10.8 765.9) rotate(-90)" font-family="Liberation Sans, sans-serif" font-size="14.5" text-anchor="middle" stroke="#000" stroke-width="0.55" letter-spacing="0.4">Adjusted Rand Index</text>
<g font-family="Liberation Sans, sans-serif" font-weight="bold" font-size="13.6" text-anchor="end" stroke="#000" stroke-width="0.5">
<text transform="translate(54.2 908.0) rotate(-45) scale(0.94 1)">2</text>
<text transform="translate(82.2 908.0) rotate(-45) scale(0.94 1)">4</text>
<text transform="translate(110.2 908.0) rotate(-45) scale(0.94 1)">8</text>
<text transform="translate(138.2 908.0) rotate(-45) scale(0.94 1)">16</text>
<text transform="translate(166.2 908.0) rotate(-45) scale(0.94 1)">32</text>
<text transform="translate(194.2 908.0) rotate(-45) scale(0.94 1)">64</text>
<text transform="translate(222.2 908.0) rotate(-45) scale(0.94 1)">128</text>
<text transform="translate(250.2 908.0) rotate(-45) scale(0.94 1)">256</text>
<text transform="translate(278.2 908.0) rotate(-45) scale(0.94 1)">512</text>
<text transform="translate(306.2 908.0) rotate(-45) scale(0.94 1)">1024</text>
<text transform="translate(334.2 908.0) rotate(-45) scale(0.94 1)">2048</text>
<text transform="translate(362.2 908.0) rotate(-45) scale(0.94 1)">4096</text>
<text transform="translate(390.2 908.0) rotate(-45) scale(0.94 1)">8192</text>
<text transform="translate(418.2 908.0) rotate(-45) scale(0.94 1)">16384</text>
<text transform="translate(446.2 908.0) rotate(-45) scale(0.94 1)">32768</text>
<text transform="translate(474.2 908.0) rotate(-45) scale(0.94 1)">65536</text>
<text transform="translate(502.2 908.0) rotate(-45) scale(0.94 1)">131072</text>
<text transform="translate(530.2 908.0) rotate(-45) scale(0.94 1)">262144</text>
<text transform="translate(558.2 908.0) rotate(-45) scale(0.94 1)">524288</text>
<text transform="translate(586.2 908.0) rotate(-45) scale(0.94 1)">1048576</text>
</g>
<rect x="75" y="670" width="111" height="190" fill="#fff"/>
<g font-family="Liberation Sans, sans-serif" font-size="15.2">
<path d="M91 690H121.5" stroke="#4070B0" stroke-width="3.6"/>
<path d="M106.2 684.0L111.8 690.0L106.2 696.0L100.7 690.0Z" fill="#4070B0"/>
<text transform="translate(123 695.0) scale(0.9 1)">η<tspan dx="1.6">=0%</tspan></text>
<path d="M91 718.5H121.5" stroke="#80A04A" stroke-width="3.6"/>
<path d="M106.2 711.9L112.2 723.9L100.2 723.9Z" fill="#80A04A"/>
<text transform="translate(123 723.5) scale(0.9 1)">η<tspan dx="1.6">=10%</tspan></text>
<path d="M91 747H121.5" stroke="#674E8F" stroke-width="3.6"/>
<path d="M100.8 741.6L111.7 752.4M111.7 741.6L100.8 752.4" stroke="#674E8F" stroke-width="2.2"/>
<text transform="translate(123 752.0) scale(0.9 1)">η<tspan dx="1.6">=20%</tspan></text>
<path d="M91 775.5H121.5" stroke="#3A94AE" stroke-width="3.6"/>
<path d="M100.8 770.0L111.8 781.0M111.8 770.0L100.8 781.0M106.2 769.5L106.2 781.5" stroke="#3A94AE" stroke-width="2.1"/>
<text transform="translate(123 780.5) scale(0.9 1)">η<tspan dx="1.6">=30%</tspan></text>
<path d="M91 804H121.5" stroke="#D97A33" stroke-width="3.6"/>
<circle cx="106.2" cy="804.0" r="6" fill="#D97A33"/>
<text transform="translate(123 809.0) scale(0.9 1)">η<tspan dx="1.6">=40%</tspan></text>
<path d="M91 832.5H121.5" stroke="#8CA5CE" stroke-width="3.6"/>
<path d="M100.2 832.5L112.2 832.5M106.2 826.5L106.2 838.5" stroke="#8CA5CE" stroke-width="1.8"/>
<text transform="translate(123 837.5) scale(0.9 1)">η<tspan dx="1.6">=50%</tspan></text>
</g>
<text x="454.5" y="739" font-family="Liberation Sans, sans-serif" font-size="22" letter-spacing="0.7" stroke="#000" stroke-width="0.7">CM100</text>
<clipPath id="c2"><rect x="40" y="643.00" width="560" height="255.00"/></clipPath>
<polyline points="51.0,888.00 79.0,888.00 107.0,888.00 135.0,888.00 163.0,888.00 191.0,888.00 219.0,888.00 247.0,888.00 275.0,729.98 303.0,650.35 331.0,643.00 359.0,643.00 387.0,643.00 415.0,643.00 443.0,643.00 471.0,643.00 499.0,643.00 527.0,643.00 555.0,643.00 583.0,643.00" fill="none" stroke="#4070B0" stroke-width="3.9" stroke-linejoin="round" clip-path="url(#c2)"/>
<path d="M51.0 882.0L56.5 888.0L51.0 894.0L45.5 888.0Z" fill="#4070B0"/>
<path d="M79.0 882.0L84.5 888.0L79.0 894.0L73.5 888.0Z" fill="#4070B0"/>
<path d="M107.0 882.0L112.5 888.0L107.0 894.0L101.5 888.0Z" fill="#4070B0"/>
<path d="M135.0 882.0L140.5 888.0L135.0 894.0L129.5 888.0Z" fill="#4070B0"/>
<path d="M163.0 882.0L168.5 888.0L163.0 894.0L157.5 888.0Z" fill="#4070B0"/>
<path d="M191.0 882.0L196.5 888.0L191.0 894.0L185.5 888.0Z" fill="#4070B0"/>
<path d="M219.0 882.0L224.5 888.0L219.0 894.0L213.5 888.0Z" fill="#4070B0"/>
<path d="M247.0 882.0L252.5 888.0L247.0 894.0L241.5 888.0Z" fill="#4070B0"/>
<path d="M275.0 724.0L280.5 730.0L275.0 736.0L269.5 730.0Z" fill="#4070B0"/>
<path d="M303.0 644.4L308.5 650.4L303.0 656.4L297.5 650.4Z" fill="#4070B0"/>
<path d="M331.0 637.0L336.5 643.0L331.0 649.0L325.5 643.0Z" fill="#4070B0"/>
<path d="M359.0 637.0L364.5 643.0L359.0 649.0L353.5 643.0Z" fill="#4070B0"/>
<path d="M387.0 637.0L392.5 643.0L387.0 649.0L381.5 643.0Z" fill="#4070B0"/>
<path d="M415.0 637.0L420.5 643.0L415.0 649.0L409.5 643.0Z" fill="#4070B0"/>
<path d="M443.0 637.0L448.5 643.0L443.0 649.0L437.5 643.0Z" fill="#4070B0"/>
<path d="M471.0 637.0L476.5 643.0L471.0 649.0L465.5 643.0Z" fill="#4070B0"/>
<path d="M499.0 637.0L504.5 643.0L499.0 649.0L493.5 643.0Z" fill="#4070B0"/>
<path d="M527.0 637.0L532.5 643.0L527.0 649.0L521.5 643.0Z" fill="#4070B0"/>
<path d="M555.0 637.0L560.5 643.0L555.0 649.0L549.5 643.0Z" fill="#4070B0"/>
<path d="M583.0 637.0L588.5 643.0L583.0 649.0L577.5 643.0Z" fill="#4070B0"/>
<polyline points="51.0,888.00 79.0,888.00 107.0,888.00 135.0,888.00 163.0,888.00 191.0,888.00 219.0,888.00 247.0,888.00 275.0,726.30 303.0,647.90 331.0,643.00 359.0,643.00 387.0,643.00 415.0,643.00 443.0,643.00 471.0,643.00 499.0,643.00 527.0,643.00 555.0,643.00 583.0,643.00" fill="none" stroke="#80A04A" stroke-width="3.9" stroke-linejoin="round" clip-path="url(#c2)"/>
<path d="M51.0 881.4L57.0 893.4L45.0 893.4Z" fill="#80A04A"/>
<path d="M79.0 881.4L85.0 893.4L73.0 893.4Z" fill="#80A04A"/>
<path d="M107.0 881.4L113.0 893.4L101.0 893.4Z" fill="#80A04A"/>
<path d="M135.0 881.4L141.0 893.4L129.0 893.4Z" fill="#80A04A"/>
<path d="M163.0 881.4L169.0 893.4L157.0 893.4Z" fill="#80A04A"/>
<path d="M191.0 881.4L197.0 893.4L185.0 893.4Z" fill="#80A04A"/>
<path d="M219.0 881.4L225.0 893.4L213.0 893.4Z" fill="#80A04A"/>
<path d="M247.0 881.4L253.0 893.4L241.0 893.4Z" fill="#80A04A"/>
<path d="M275.0 719.7L281.0 731.7L269.0 731.7Z" fill="#80A04A"/>
<path d="M303.0 641.3L309.0 653.3L297.0 653.3Z" fill="#80A04A"/>
<path d="M331.0 636.4L337.0 648.4L325.0 648.4Z" fill="#80A04A"/>
<path d="M359.0 636.4L365.0 648.4L353.0 648.4Z" fill="#80A04A"/>
<path d="M387.0 636.4L393.0 648.4L381.0 648.4Z" fill="#80A04A"/>
<path d="M415.0 636.4L421.0 648.4L409.0 648.4Z" fill="#80A04A"/>
<path d="M443.0 636.4L449.0 648.4L437.0 648.4Z" fill="#80A04A"/>
<path d="M471.0 636.4L477.0 648.4L465.0 648.4Z" fill="#80A04A"/>
<path d="M499.0 636.4L505.0 648.4L493.0 648.4Z" fill="#80A04A"/>
<path d="M527.0 636.4L533.0 648.4L521.0 648.4Z" fill="#80A04A"/>
<path d="M555.0 636.4L561.0 648.4L549.0 648.4Z" fill="#80A04A"/>
<path d="M583.0 636.4L589.0 648.4L577.0 648.4Z" fill="#80A04A"/>
<polyline points="51.0,888.00 79.0,888.00 107.0,888.00 135.0,888.00 163.0,888.00 191.0,888.00 219.0,888.00 247.0,888.00 275.0,783.88 303.0,689.55 331.0,653.29 359.0,643.00 387.0,643.00 415.0,643.00 443.0,643.00 471.0,643.00 499.0,643.00 527.0,643.00 555.0,643.00 583.0,643.00" fill="none" stroke="#674E8F" stroke-width="3.9" stroke-linejoin="round" clip-path="url(#c2)"/>
<path d="M45.6 882.6L56.4 893.4M56.4 882.6L45.6 893.4" stroke="#674E8F" stroke-width="2.2"/>
<path d="M73.6 882.6L84.4 893.4M84.4 882.6L73.6 893.4" stroke="#674E8F" stroke-width="2.2"/>
<path d="M101.6 882.6L112.4 893.4M112.4 882.6L101.6 893.4" stroke="#674E8F" stroke-width="2.2"/>
<path d="M129.6 882.6L140.4 893.4M140.4 882.6L129.6 893.4" stroke="#674E8F" stroke-width="2.2"/>
<path d="M157.6 882.6L168.4 893.4M168.4 882.6L157.6 893.4" stroke="#674E8F" stroke-width="2.2"/>
<path d="M185.6 882.6L196.4 893.4M196.4 882.6L185.6 893.4" stroke="#674E8F" stroke-width="2.2"/>
<path d="M213.6 882.6L224.4 893.4M224.4 882.6L213.6 893.4" stroke="#674E8F" stroke-width="2.2"/>
<path d="M241.6 882.6L252.4 893.4M252.4 882.6L241.6 893.4" stroke="#674E8F" stroke-width="2.2"/>
<path d="M269.6 778.5L280.4 789.3M280.4 778.5L269.6 789.3" stroke="#674E8F" stroke-width="2.2"/>
<path d="M297.6 684.1L308.4 694.9M308.4 684.1L297.6 694.9" stroke="#674E8F" stroke-width="2.2"/>
<path d="M325.6 647.9L336.4 658.7M336.4 647.9L325.6 658.7" stroke="#674E8F" stroke-width="2.2"/>
<path d="M353.6 637.6L364.4 648.4M364.4 637.6L353.6 648.4" stroke="#674E8F" stroke-width="2.2"/>
<path d="M381.6 637.6L392.4 648.4M392.4 637.6L381.6 648.4" stroke="#674E8F" stroke-width="2.2"/>
<path d="M409.6 637.6L420.4 648.4M420.4 637.6L409.6 648.4" stroke="#674E8F" stroke-width="2.2"/>
<path d="M437.6 637.6L448.4 648.4M448.4 637.6L437.6 648.4" stroke="#674E8F" stroke-width="2.2"/>
<path d="M465.6 637.6L476.4 648.4M476.4 637.6L465.6 648.4" stroke="#674E8F" stroke-width="2.2"/>
<path d="M493.6 637.6L504.4 648.4M504.4 637.6L493.6 648.4" stroke="#674E8F" stroke-width="2.2"/>
<path d="M521.6 637.6L532.4 648.4M532.4 637.6L521.6 648.4" stroke="#674E8F" stroke-width="2.2"/>
<path d="M549.6 637.6L560.4 648.4M560.4 637.6L549.6 648.4" stroke="#674E8F" stroke-width="2.2"/>
<path d="M577.6 637.6L588.4 648.4M588.4 637.6L577.6 648.4" stroke="#674E8F" stroke-width="2.2"/>
<polyline points="51.0,888.00 79.0,888.00 107.0,888.00 135.0,888.00 163.0,888.00 191.0,888.00 219.0,888.00 247.0,888.00 275.0,888.00 303.0,705.48 331.0,643.00 359.0,643.00 387.0,643.00 415.0,643.00 443.0,643.00 471.0,643.00 499.0,643.00 527.0,643.00 555.0,643.00 583.0,643.00" fill="none" stroke="#3A94AE" stroke-width="3.9" stroke-linejoin="round" clip-path="url(#c2)"/>
<path d="M45.5 882.5L56.5 893.5M56.5 882.5L45.5 893.5M51.0 882.0L51.0 894.0" stroke="#3A94AE" stroke-width="2.1"/>
<path d="M73.5 882.5L84.5 893.5M84.5 882.5L73.5 893.5M79.0 882.0L79.0 894.0" stroke="#3A94AE" stroke-width="2.1"/>
<path d="M101.5 882.5L112.5 893.5M112.5 882.5L101.5 893.5M107.0 882.0L107.0 894.0" stroke="#3A94AE" stroke-width="2.1"/>
<path d="M129.5 882.5L140.5 893.5M140.5 882.5L129.5 893.5M135.0 882.0L135.0 894.0" stroke="#3A94AE" stroke-width="2.1"/>
<path d="M157.5 882.5L168.5 893.5M168.5 882.5L157.5 893.5M163.0 882.0L163.0 894.0" stroke="#3A94AE" stroke-width="2.1"/>
<path d="M185.5 882.5L196.5 893.5M196.5 882.5L185.5 893.5M191.0 882.0L191.0 894.0" stroke="#3A94AE" stroke-width="2.1"/>
<path d="M213.5 882.5L224.5 893.5M224.5 882.5L213.5 893.5M219.0 882.0L219.0 894.0" stroke="#3A94AE" stroke-width="2.1"/>
<path d="M241.5 882.5L252.5 893.5M252.5 882.5L241.5 893.5M247.0 882.0L247.0 894.0" stroke="#3A94AE" stroke-width="2.1"/>
<path d="M269.5 882.5L280.5 893.5M280.5 882.5L269.5 893.5M275.0 882.0L275.0 894.0" stroke="#3A94AE" stroke-width="2.1"/>
<path d="M297.5 700.0L308.5 711.0M308.5 700.0L297.5 711.0M303.0 699.5L303.0 711.5" stroke="#3A94AE" stroke-width="2.1"/>
<path d="M325.5 637.5L336.5 648.5M336.5 637.5L325.5 648.5M331.0 637.0L331.0 649.0" stroke="#3A94AE" stroke-width="2.1"/>
<path d="M353.5 637.5L364.5 648.5M364.5 637.5L353.5 648.5M359.0 637.0L359.0 649.0" stroke="#3A94AE" stroke-width="2.1"/>
<path d="M381.5 637.5L392.5 648.5M392.5 637.5L381.5 648.5M387.0 637.0L387.0 649.0" stroke="#3A94AE" stroke-width="2.1"/>
<path d="M409.5 637.5L420.5 648.5M420.5 637.5L409.5 648.5M415.0 637.0L415.0 649.0" stroke="#3A94AE" stroke-width="2.1"/>
<path d="M437.5 637.5L448.5 648.5M448.5 637.5L437.5 648.5M443.0 637.0L443.0 649.0" stroke="#3A94AE" stroke-width="2.1"/>
<path d="M465.5 637.5L476.5 648.5M476.5 637.5L465.5 648.5M471.0 637.0L471.0 649.0" stroke="#3A94AE" stroke-width="2.1"/>
<path d="M493.5 637.5L504.5 648.5M504.5 637.5L493.5 648.5M499.0 637.0L499.0 649.0" stroke="#3A94AE" stroke-width="2.1"/>
<path d="M521.5 637.5L532.5 648.5M532.5 637.5L521.5 648.5M527.0 637.0L527.0 649.0" stroke="#3A94AE" stroke-width="2.1"/>
<path d="M549.5 637.5L560.5 648.5M560.5 637.5L549.5 648.5M555.0 637.0L555.0 649.0" stroke="#3A94AE" stroke-width="2.1"/>
<path d="M577.5 637.5L588.5 648.5M588.5 637.5L577.5 648.5M583.0 637.0L583.0 649.0" stroke="#3A94AE" stroke-width="2.1"/>
<polyline points="51.0,888.00 79.0,888.00 107.0,888.00 135.0,888.00 163.0,888.00 191.0,888.00 219.0,888.00 247.0,888.00 275.0,888.00 303.0,888.00 331.0,706.70 359.0,652.80 387.0,643.00 415.0,643.00 443.0,643.00 471.0,643.00 499.0,643.00 527.0,643.00 555.0,643.00 583.0,643.00" fill="none" stroke="#D97A33" stroke-width="3.9" stroke-linejoin="round" clip-path="url(#c2)"/>
<circle cx="51.0" cy="888.0" r="6" fill="#D97A33"/>
<circle cx="79.0" cy="888.0" r="6" fill="#D97A33"/>
<circle cx="107.0" cy="888.0" r="6" fill="#D97A33"/>
<circle cx="135.0" cy="888.0" r="6" fill="#D97A33"/>
<circle cx="163.0" cy="888.0" r="6" fill="#D97A33"/>
<circle cx="191.0" cy="888.0" r="6" fill="#D97A33"/>
<circle cx="219.0" cy="888.0" r="6" fill="#D97A33"/>
<circle cx="247.0" cy="888.0" r="6" fill="#D97A33"/>
<circle cx="275.0" cy="888.0" r="6" fill="#D97A33"/>
<circle cx="303.0" cy="888.0" r="6" fill="#D97A33"/>
<circle cx="331.0" cy="706.7" r="6" fill="#D97A33"/>
<circle cx="359.0" cy="652.8" r="6" fill="#D97A33"/>
<circle cx="387.0" cy="643.0" r="6" fill="#D97A33"/>
<circle cx="415.0" cy="643.0" r="6" fill="#D97A33"/>
<circle cx="443.0" cy="643.0" r="6" fill="#D97A33"/>
<circle cx="471.0" cy="643.0" r="6" fill="#D97A33"/>
<circle cx="499.0" cy="643.0" r="6" fill="#D97A33"/>
<circle cx="527.0" cy="643.0" r="6" fill="#D97A33"/>
<circle cx="555.0" cy="643.0" r="6" fill="#D97A33"/>
<circle cx="583.0" cy="643.0" r="6" fill="#D97A33"/>
<polyline points="51.0,888.00 79.0,888.00 107.0,888.00 135.0,888.00 163.0,888.00 191.0,888.00 219.0,888.00 247.0,888.00 275.0,888.00 303.0,888.00 331.0,888.00 359.0,698.86 387.0,661.13 415.0,643.00 443.0,643.00 471.0,643.00 499.0,643.00 527.0,643.00 555.0,643.00 583.0,643.00" fill="none" stroke="#8CA5CE" stroke-width="3.9" stroke-linejoin="round" clip-path="url(#c2)"/>
<path d="M45.0 888.0L57.0 888.0M51.0 882.0L51.0 894.0" stroke="#8CA5CE" stroke-width="1.8"/>
<path d="M73.0 888.0L85.0 888.0M79.0 882.0L79.0 894.0" stroke="#8CA5CE" stroke-width="1.8"/>
<path d="M101.0 888.0L113.0 888.0M107.0 882.0L107.0 894.0" stroke="#8CA5CE" stroke-width="1.8"/>
<path d="M129.0 888.0L141.0 888.0M135.0 882.0L135.0 894.0" stroke="#8CA5CE" stroke-width="1.8"/>
<path d="M157.0 888.0L169.0 888.0M163.0 882.0L163.0 894.0" stroke="#8CA5CE" stroke-width="1.8"/>
<path d="M185.0 888.0L197.0 888.0M191.0 882.0L191.0 894.0" stroke="#8CA5CE" stroke-width="1.8"/>
<path d="M213.0 888.0L225.0 888.0M219.0 882.0L219.0 894.0" stroke="#8CA5CE" stroke-width="1.8"/>
<path d="M241.0 888.0L253.0 888.0M247.0 882.0L247.0 894.0" stroke="#8CA5CE" stroke-width="1.8"/>
<path d="M269.0 888.0L281.0 888.0M275.0 882.0L275.0 894.0" stroke="#8CA5CE" stroke-width="1.8"/>
<path d="M297.0 888.0L309.0 888.0M303.0 882.0L303.0 894.0" stroke="#8CA5CE" stroke-width="1.8"/>
<path d="M325.0 888.0L337.0 888.0M331.0 882.0L331.0 894.0" stroke="#8CA5CE" stroke-width="1.8"/>
<path d="M353.0 698.9L365.0 698.9M359.0 692.9L359.0 704.9" stroke="#8CA5CE" stroke-width="1.8"/>
<path d="M381.0 661.1L393.0 661.1M387.0 655.1L387.0 667.1" stroke="#8CA5CE" stroke-width="1.8"/>
<path d="M409.0 643.0L421.0 643.0M415.0 637.0L415.0 649.0" stroke="#8CA5CE" stroke-width="1.8"/>
<path d="M437.0 643.0L449.0 643.0M443.0 637.0L443.0 649.0" stroke="#8CA5CE" stroke-width="1.8"/>
<path d="M465.0 643.0L477.0 643.0M471.0 637.0L471.0 649.0" stroke="#8CA5CE" stroke-width="1.8"/>
<path d="M493.0 643.0L505.0 643.0M499.0 637.0L499.0 649.0" stroke="#8CA5CE" stroke-width="1.8"/>
<path d="M521.0 643.0L533.0 643.0M527.0 637.0L527.0 649.0" stroke="#8CA5CE" stroke-width="1.8"/>
<path d="M549.0 643.0L561.0 643.0M555.0 637.0L555.0 649.0" stroke="#8CA5CE" stroke-width="1.8"/>
<path d="M577.0 643.0L589.0 643.0M583.0 637.0L583.0 649.0" stroke="#8CA5CE" stroke-width="1.8"/>
</svg>
</body></html>
